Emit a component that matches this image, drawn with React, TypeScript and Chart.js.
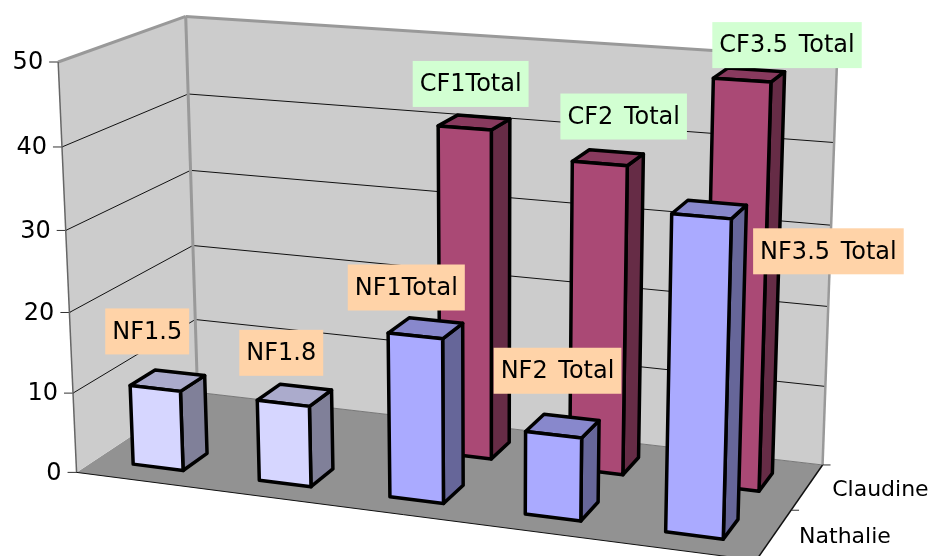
import React, { useEffect, useRef } from "react";
import { Chart, registerables, LinearScale } from "chart.js";

Chart.register(...registerables);

// ---- data ----
const categories = ["1.5", "1.8", "1", "2", "3.5"];
const yTickMax = 50;
const yTickStep = 10;
const nathalieValues = [10, 10, 20, 10, 37];
const claudineValues = [null, null, 41, 38, 49];
const nathalieLabels = ["NF1.5", "NF1.8", "NF1Total", "NF2 Total", "NF3.5 Total"];
const claudineLabels = [null, null, "CF1Total", "CF2 Total", "CF3.5 Total"];
const seriesNames = ["Nathalie", "Claudine"];

// ---- colours ----
const lightBlue = "rgb(214,214,255)";
const midBlue = "rgb(170,170,255)";
const plum = "rgb(170,73,117)";
const nathalieColors = [lightBlue, lightBlue, midBlue, midBlue, midBlue];
const claudineColors = [plum, plum, plum, plum, plum];
const orangeLabel = "rgb(255,211,168)";
const greenLabel = "rgb(210,255,210)";

// ---- layout of the 3D box: screen place of the eight corners (u across, w into the page, v up) ----
const cameraPairs: number[][] = [
  [0, 0, 0, 77, 473],
  [1, 0, 0, 757, 560],
  [0, 1, 0, 197, 392],
  [1, 1, 0, 822, 465],
  [0, 0, 1, 58, 60],
  [1, 0, 1, 768, 115],
  [0, 1, 1, 186, 18],
  [1, 1, 1, 838, 57],
];
const rowCentre = [0.25, 0.75];
const rowHalfDepth = 0.1;
const nathalieLabelOffsets = [[-8, -57], [-2, -50.5], [-9, -48.4], [4, -64], [127, 35]];
const claudineLabelOffsets = [[0, 0], [0, 0], [6, -44], [24, -47], [45, -35]];

function solveCamera(pairs: number[][]) {
  const A: number[][] = [];
  const B: number[] = [];
  for (const [u, w, v, X, Y] of pairs) {
    A.push([u, w, v, 1, 0, 0, 0, 0, -X * u, -X * w, -X * v]);
    B.push(X);
    A.push([0, 0, 0, 0, u, w, v, 1, -Y * u, -Y * w, -Y * v]);
    B.push(Y);
  }
  const n = 11;
  const M = Array.from({ length: n }, (_, i) => {
    const row = new Array(n + 1).fill(0);
    for (let j = 0; j < n; j++) for (let k = 0; k < A.length; k++) row[j] += A[k][i] * A[k][j];
    for (let k = 0; k < A.length; k++) row[n] += A[k][i] * B[k];
    return row;
  });
  for (let i = 0; i < n; i++) {
    let p = i;
    for (let r = i + 1; r < n; r++) if (Math.abs(M[r][i]) > Math.abs(M[p][i])) p = r;
    [M[i], M[p]] = [M[p], M[i]];
    for (let r = 0; r < n; r++) {
      if (r === i) continue;
      const f = M[r][i] / M[i][i];
      for (let c = i; c <= n; c++) M[r][c] -= f * M[i][c];
    }
  }
  return M.map((row, i) => row[n] / row[i]);
}
const cam = solveCamera(cameraPairs);
function project(u: number, w: number, v: number): [number, number] {
  const d = cam[8] * u + cam[9] * w + cam[10] * v + 1;
  return [
    (cam[0] * u + cam[1] * w + cam[2] * v + cam[3]) / d,
    (cam[4] * u + cam[5] * w + cam[6] * v + cam[7]) / d,
  ];
}

// A value axis that stands on the left edge of the 3D box
class PerspectiveScale extends (LinearScale as any) {
  static id = "perspective";
  static defaults = (LinearScale as any).defaults;
  fraction(value: number) {
    return (value - this.min) / (this.max - this.min);
  }
  getPixelForValue(value: number) {
    return project(0, 0, this.fraction(value))[1];
  }
  _computeLabelArea() {
    return undefined;
  }
  _computeLabelItems(area: any) {
    const items = super._computeLabelItems(area);
    items.forEach((item: any, i: number) => {
      item.options.translation[0] = project(0, 0, this.fraction(this.ticks[i].value))[0] - 15;
      item.options.translation[1] += 1;
      item.options.textAlign = "right";
    });
    return items;
  }
}
Chart.register(PerspectiveScale as any);

function shade(color: string, k: number) {
  const m = color.match(/\d+/g)!.map(Number);
  return `rgb(${Math.round(m[0] * k)},${Math.round(m[1] * k)},${Math.round(m[2] * k)})`;
}

function poly(ctx: CanvasRenderingContext2D, pts: [number, number][], fill: string | null, stroke?: string, lw?: number) {
  ctx.beginPath();
  pts.forEach((p, i) => (i ? ctx.lineTo(p[0], p[1]) : ctx.moveTo(p[0], p[1])));
  ctx.closePath();
  if (fill) {
    ctx.fillStyle = fill;
    ctx.fill();
  }
  if (stroke) {
    ctx.strokeStyle = stroke;
    ctx.lineWidth = lw || 1;
    ctx.stroke();
  }
}
function line(ctx: CanvasRenderingContext2D, a: [number, number], b: [number, number], color: string, lw: number) {
  ctx.beginPath();
  ctx.moveTo(a[0], a[1]);
  ctx.lineTo(b[0], b[1]);
  ctx.strokeStyle = color;
  ctx.lineWidth = lw;
  ctx.stroke();
}

const box3d = {
  id: "box3d",
  beforeDatasetsDraw(chart: any) {
    const ctx: CanvasRenderingContext2D = chart.ctx;
    const y = chart.scales.y;
    const area = chart.chartArea;
    ctx.save();
    ctx.lineJoin = "round";

    // walls and floor
    poly(ctx, [project(0, 0, 0), project(1, 0, 0), project(1, 1, 0), project(0, 1, 0)], "rgb(146,146,146)");
    poly(ctx, [project(0, 0, 0), project(0, 1, 0), project(0, 1, 1), project(0, 0, 1)], "rgb(204,204,204)");
    poly(ctx, [project(0, 1, 0), project(1, 1, 0), project(1, 1, 1), project(0, 1, 1)], "rgb(204,204,204)");

    // gridlines and tick marks
    y.ticks.forEach((t: any) => {
      const v = y.fraction(t.value);
      if (t.value > y.min && t.value < y.max) {
        line(ctx, project(0, 0, v), project(0, 1, v), "#111", 1);
        line(ctx, project(0, 1, v), project(1, 1, v), "#111", 1);
      }
      const p = project(0, 0, v);
      line(ctx, [p[0] - 9, p[1]], [p[0] + 1, p[1]], "#333", 1);
    });

    // box edges
    line(ctx, project(0, 1, 0), project(1, 1, 0), "#777", 1);
    line(ctx, project(0, 0, 1), project(0, 1, 1), "#999", 3);
    line(ctx, project(0, 1, 1), project(1, 1, 1), "#999", 3);
    line(ctx, project(0, 1, 0), project(0, 1, 1), "#999", 3);
    line(ctx, project(1, 1, 0), project(1, 1, 1), "#999", 2.5);
    line(ctx, project(0, 0, 0), project(0, 0, 1), "#666", 1.5);
    line(ctx, project(0, 0, 0), project(1, 0, 0), "#111", 1);
    line(ctx, project(1, 0, 0), project(1, 1, 0), "#111", 1.5);

    // depth axis ticks and names
    [1, 0.5, 0].forEach((w) => {
      const p = project(1, w, 0);
      line(ctx, p, [p[0] + 8, p[1]], "#333", 1);
    });

    // bars: back row first, left to right
    const labelBoxes: any[] = [];
    [1, 0].forEach((d) => {
      const meta = chart.getDatasetMeta(d);
      const ds = chart.data.datasets[d];
      const w0 = rowCentre[d] - rowHalfDepth;
      const w1 = rowCentre[d] + rowHalfDepth;
      meta.data.forEach((el: any, i: number) => {
        const value = ds.data[i];
        if (value == null) return;
        const uc = (el.x - area.left) / area.width;
        const uh = el.width / 2 / area.width;
        const u0 = uc - uh;
        const u1 = uc + uh;
        const v = y.fraction(value);
        const c = el.options.backgroundColor;
        const side: [number, number][] = [project(u1, w0, 0), project(u1, w1, 0), project(u1, w1, v), project(u1, w0, v)];
        const top: [number, number][] = [project(u0, w0, v), project(u1, w0, v), project(u1, w1, v), project(u0, w1, v)];
        const front: [number, number][] = [project(u0, w0, 0), project(u1, w0, 0), project(u1, w0, v), project(u0, w0, v)];
        poly(ctx, side, shade(c, 0.6), "#000", 3.5);
        poly(ctx, top, shade(c, 0.8), "#000", 3.5);
        poly(ctx, front, c, "#000", 3.5);
        const tc = project(uc, w0, v);
        labelBoxes.push({ text: ds.barLabels[i], off: ds.labelOffsets[i], at: tc, color: ds.labelFill });
      });
    });

    // data labels
    ctx.font = "24px 'DejaVu Sans'";
    (ctx as any).wordSpacing = "3px";
    ctx.textBaseline = "middle";
    ctx.textAlign = "center";
    labelBoxes.forEach((b) => {
      const cx = b.at[0] + b.off[0];
      const cy = b.at[1] + b.off[1];
      const bw = ctx.measureText(b.text).width + 14;
      ctx.fillStyle = b.color;
      ctx.fillRect(cx - bw / 2, cy - 23, bw, 46);
      ctx.fillStyle = "#000";
      ctx.fillText(b.text, cx, cy + 1);
    });
    (ctx as any).wordSpacing = "0px";

    // series names beside the depth axis
    ctx.font = "22px 'DejaVu Sans'";
    ctx.textAlign = "left";
    ctx.fillStyle = "#000";
    [0, 1].forEach((d) => {
      const p = project(1, rowCentre[d], 0);
      ctx.fillText(seriesNames[d], p[0] + 25, p[1] + 3);
    });

    ctx.restore();
    return false;
  },
};

export default function App() {
  const ref = useRef<HTMLCanvasElement>(null);
  useEffect(() => {
    document.body.style.margin = "0";
    const chart = new Chart(ref.current!, {
      type: "bar",
      data: {
        labels: categories,
        datasets: [
          {
            label: seriesNames[0],
            data: nathalieValues,
            backgroundColor: nathalieColors,
            barLabels: nathalieLabels,
            labelOffsets: nathalieLabelOffsets,
            labelFill: orangeLabel,
          } as any,
          {
            label: seriesNames[1],
            data: claudineValues,
            backgroundColor: claudineColors,
            barLabels: claudineLabels,
            labelOffsets: claudineLabelOffsets,
            labelFill: greenLabel,
          } as any,
        ],
      },
      options: {
        animation: false,
        responsive: false,
        layout: { padding: 0 },
        plugins: { legend: { display: false }, title: { display: false }, tooltip: { enabled: false } },
        datasets: { bar: { grouped: false, categoryPercentage: 1, barPercentage: 0.4 } },
        scales: {
          x: { type: "category", display: false, offset: true },
          y: {
            type: "perspective",
            min: 0,
            max: yTickMax,
            grid: { display: false },
            border: { display: false },
            ticks: { stepSize: yTickStep, color: "#000", font: { family: "'DejaVu Sans'", size: 24 }, autoSkip: false },
          },
        },
      } as any,
      plugins: [box3d as any],
    });
    return () => chart.destroy();
  }, []);
  return <canvas ref={ref} width={930} height={556} style={{ display: "block" }} />;
}
